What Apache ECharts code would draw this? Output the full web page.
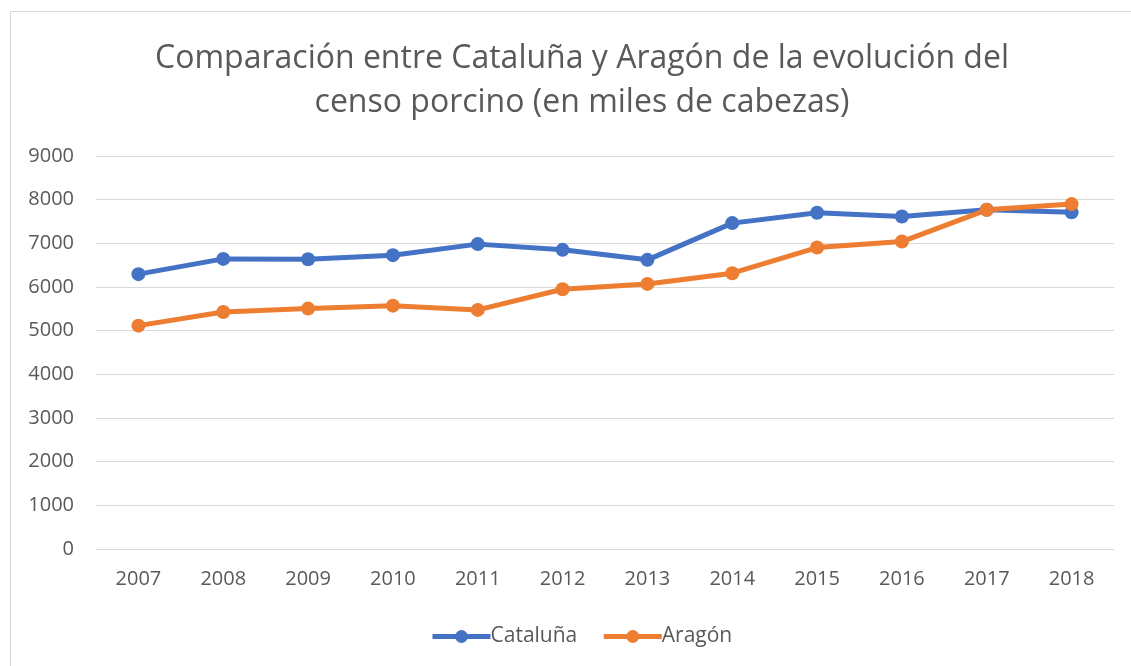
<!DOCTYPE html>
<html><head><meta charset="utf-8">
<script src="https://cdn.jsdelivr.net/npm/echarts@6/dist/echarts.min.js"></script>
<style>
html,body{margin:0;padding:0;background:#fff;}
#frame{position:absolute;left:10px;top:11px;width:1130px;height:660px;border:1px solid #d9d9d9;box-sizing:border-box;}
#c{position:absolute;left:0;top:0;width:1131px;height:666px;}
</style></head>
<body>
<div id="frame"></div>
<div id="c"></div>
<script>
var years = ['2007','2008','2009','2010','2011','2012','2013','2014','2015','2016','2017','2018'];
var cataluna = [6294, 6644, 6637, 6729, 6982, 6851, 6622, 7463, 7700, 7615, 7768, 7710];
var aragon = [5115, 5429, 5505, 5573, 5475, 5949, 6071, 6316, 6904, 7041, 7768, 7899];
var titleText = 'Comparación entre Cataluña y Aragón de la evolución del\ncenso porcino (en miles de cabezas)';

var chart = echarts.init(document.getElementById('c'));
var font = 'Open Sans';
chart.setOption({
  animation: false,
  backgroundColor: 'transparent',
  title: {
    text: titleText, left: 577, top: 32, textAlign: 'center',
    textStyle: {fontFamily: font, fontSize: 32, fontWeight: 'normal', color: '#595959', lineHeight: 44}
  },
  legend: {
    bottom: 19, left: 430, padding: 0, itemWidth: 58, itemHeight: 16, itemGap: 24,
    lineStyle: {width: 5},
    textStyle: {fontFamily: font, fontSize: 21, color: '#595959', padding: [0,0,0,-5]},
    data: ['Cataluña', 'Aragón']
  },
  grid: {left: 96, right: 17, top: 156, bottom: 117},
  xAxis: {
    type: 'category', data: years, boundaryGap: true,
    axisLine: {lineStyle: {color: '#d9d9d9', width: 1}},
    axisTick: {show: false},
    axisLabel: {fontFamily: font, fontSize: 20, color: '#595959', margin: 20}
  },
  yAxis: {
    type: 'value', min: 0, max: 9000, interval: 1000,
    axisLine: {show: false}, axisTick: {show: false},
    axisLabel: {fontFamily: font, fontSize: 20, color: '#595959', margin: 22,
      formatter: function (v) { return String(v); }},
    splitLine: {lineStyle: {color: '#d9d9d9', width: 1}}
  },
  series: [
    {name: 'Cataluña', type: 'line', data: cataluna, symbol: 'circle', symbolSize: 14,
     lineStyle: {width: 5, color: '#4472C4'}, itemStyle: {color: '#4472C4'}},
    {name: 'Aragón', type: 'line', data: aragon, symbol: 'circle', symbolSize: 14,
     lineStyle: {width: 5, color: '#ED7D31'}, itemStyle: {color: '#ED7D31'}}
  ]
});
</script>
</body></html>
